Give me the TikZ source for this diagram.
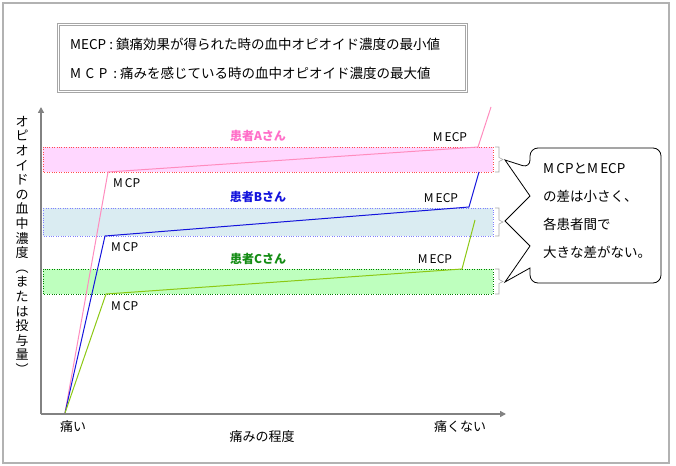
\documentclass[tikz,border=0pt]{standalone}
\usepackage{fontspec}
\setmainfont{Noto Sans CJK JP}
\usetikzlibrary{arrows.meta}
\definecolor{pinkL}{RGB}{255,140,190}
\definecolor{pinkF}{RGB}{255,215,255}
\definecolor{pinkT}{RGB}{255,110,200}
\definecolor{blueL}{RGB}{20,20,220}
\definecolor{blueF}{RGB}{218,236,242}
\definecolor{greenL}{RGB}{140,200,20}
\definecolor{greenF}{RGB}{190,255,190}
\definecolor{greenT}{RGB}{20,140,20}
\definecolor{axisG}{RGB}{130,130,130}
\begin{document}
\begin{tikzpicture}[x=1pt,y=-1pt,
  lbl/.style={font=\fontsize{12}{14}\selectfont,inner sep=0pt},
  jp/.style={font=\fontsize{13}{15}\selectfont,inner sep=0pt},
  pat/.style={font=\bfseries\fontsize{12}{14}\selectfont,inner sep=0pt},
  brc/.style={draw=gray!70,line width=0.6pt}]
\useasboundingbox (0,0) rectangle (676,465);
\draw[line width=2.5pt,gray!60] (3,3) rectangle (669,463);
% legend
\draw[line width=3pt,gray!70] (58,25) rectangle (466,92);
\draw[line width=1pt,white] (58,25) rectangle (466,92);
\node[anchor=west,font=\fontsize{13.5}{16}\selectfont,inner sep=0pt] (l1) at (70,44) {MECP : 鎮痛効果が得られた時の血中オピオイド濃度の最小値};
\node[anchor=west,font=\fontsize{13.5}{16}\selectfont,inner sep=0pt] (l2) at (70,73) {M\,\,C\,\,P\ \ : 痛みを感じている時の血中オピオイド濃度の最大値};
% bands
\fill[pinkF] (43,147) rectangle (493,172);
\draw[red!70,dotted] (43,147) rectangle (493,172);
\fill[blueF] (43,208) rectangle (493,236);
\draw[blue!50,dotted] (43,208) rectangle (493,236);
\fill[greenF] (43,269) rectangle (493,294);
\draw[green!50!black,dotted] (43,269) rectangle (493,294);
% axes
\coordinate (O) at (41,414);
\coordinate (Y) at (41,107);
\coordinate (X) at (506,414);
\draw[axisG,line width=2pt,-{Triangle[length=6pt,width=6pt]}] (O) -- (Y);
\draw[axisG,line width=2pt,-{Triangle[length=6pt,width=6pt]}] (O) -- (X);
% lines
\coordinate (S) at (65,413);
\draw[pinkL,line width=1pt] (S) -- (108,172) -- (478,147) -- (491,107);
\draw[blueL,line width=1pt] (S) -- (105,236) -- (469,207) -- (479,172);
\draw[greenL,line width=1pt] (S) -- (106,294) -- (462,269) -- (475,220);
% labels
\node[lbl,anchor=west] (m1) at (113,183) {M\,CP};
\node[lbl,anchor=west] (m2) at (111,247) {M\,CP};
\node[lbl,anchor=west] (m3) at (111,306) {M\,CP};
\node[lbl] (e1) at (450,137) {M\,ECP};
\node[lbl] (e2) at (441,198) {M\,ECP};
\node[lbl] (e3) at (435,259) {M\,ECP};
\node[pat,pinkT] (pa) at (258,136) {患者Aさん};
\node[pat,blueL] (pb) at (258,197) {患者Bさん};
\node[pat,greenT] (pc) at (258,259) {患者Cさん};
\node[jp] (t1) at (73,427) {痛い};
\node[jp] (t2) at (262,437) {痛みの程度};
\node[jp] (t3) at (460,427) {痛くない};
\node[jp,align=center,anchor=north,font=\fontsize{13}{14.6}\selectfont] (yl) at (22,116) {オ\\ピ\\オ\\イ\\ド\\の\\血\\中\\濃\\度\\︵\\ま\\た\\は\\投\\与\\量\\︶};
% braces
\foreach \a/\b in {147/172,208/236,269/294}{
  \draw[brc] (495,\a) -- (499,\a) -- (499,{(\a+\b)/2-2}) -- (503,{(\a+\b)/2}) -- (499,{(\a+\b)/2+2}) -- (499,\b) -- (495,\b);}
% callout
\draw[line width=0.8pt,fill=white] (530,168) -- (505,160) -- (530,196) -- (505,221) -- (530,246) -- (505,282) -- (530,268)
  [rounded corners=8pt] -- (530,283) -- (661,283) -- (661,148) -- (530,148) -- cycle;
\node[jp,align=left,anchor=north west,font=\fontsize{13.5}{28}\selectfont] (cb) at (543,163) {M\,CPとM\,ECP\\の差は小さく、\\各患者間で\\大きな差がない。};
\end{tikzpicture}
\end{document}
